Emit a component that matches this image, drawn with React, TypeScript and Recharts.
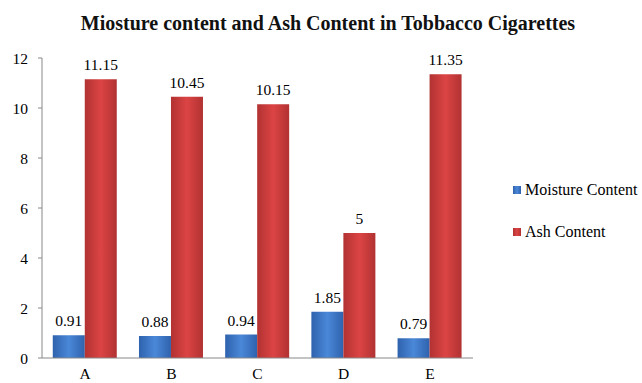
import React from 'react';
import { BarChart, Bar, XAxis, YAxis, LabelList } from 'recharts';

const categories = ['A', 'B', 'C', 'D', 'E'];
const moisture = [0.91, 0.88, 0.94, 1.85, 0.79];
const ash = [11.15, 10.45, 10.15, 5, 11.35];
const yTicks = [0, 2, 4, 6, 8, 10, 12];

const data = categories.map((c, i) => ({ name: c, moisture: moisture[i], ash: ash[i] }));

const FONT = '"Liberation Serif", "Times New Roman", serif';

const legendItems = [
  { label: 'Moisture Content', color: 'url(#blueGrad)' },
  { label: 'Ash Content', color: 'url(#redGrad)' },
];

function LegendBox() {
  return (
    <div style={{ fontFamily: FONT, fontSize: 16, color: '#000' }}>
      {legendItems.map((item) => (
        <div key={item.label} style={{ display: 'flex', alignItems: 'center', height: 42 }}>
          <svg width={8} height={8} style={{ marginRight: 4 }}>
            <rect width={8} height={8} fill={item.color} />
          </svg>
          <span>{item.label}</span>
        </div>
      ))}
    </div>
  );
}

export default function App() {
  return (
    <div style={{ position: 'fixed', left: 0, top: 0, width: 642, height: 383, background: '#fff', fontFamily: FONT }}>
      <div
        style={{
          position: 'absolute',
          top: 12,
          left: 7,
          width: 642,
          textAlign: 'center',
          fontWeight: 'bold',
          fontSize: 20,
          fontFamily: FONT,
          color: '#111',
        }}
      >
        Miosture content and Ash Content in Tobbacco Cigarettes
      </div>
      <BarChart
        width={642}
        height={383}
        data={data}
        margin={{ top: 58, right: 169, bottom: 0, left: 0 }}
        barCategoryGap="12.5%"
        barGap={0}
        style={{ fontFamily: FONT }}
      >
        <defs>
          <linearGradient id="blueGrad" x1="0" y1="0" x2="1" y2="0">
            <stop offset="0%" stopColor="#2f62ad" />
            <stop offset="50%" stopColor="#4a88d8" />
            <stop offset="100%" stopColor="#2f62ad" />
          </linearGradient>
          <linearGradient id="redGrad" x1="0" y1="0" x2="1" y2="0">
            <stop offset="0%" stopColor="#b23232" />
            <stop offset="50%" stopColor="#dc4444" />
            <stop offset="100%" stopColor="#b23232" />
          </linearGradient>
        </defs>
        <XAxis
          dataKey="name"
          height={25}
          tickLine={false}
          axisLine={{ stroke: '#888' }}
          tick={{ fontSize: 15.5, fill: '#000', fontFamily: FONT }}
          tickMargin={4}
        />
        <YAxis
          width={42}
          domain={[0, 12]}
          ticks={yTicks}
          axisLine={{ stroke: '#888' }}
          tickLine={{ stroke: '#888' }}
          tickSize={4}
          tick={{ fontSize: 15.5, fill: '#000', fontFamily: FONT }}
          tickMargin={10}
        />
        <Bar dataKey="moisture" name="Moisture Content" fill="url(#blueGrad)" isAnimationActive={false}>
          <LabelList dataKey="moisture" position="top" offset={9} style={{ fontSize: 15.5, fill: '#000', fontFamily: FONT }} />
        </Bar>
        <Bar dataKey="ash" name="Ash Content" fill="url(#redGrad)" isAnimationActive={false}>
          <LabelList dataKey="ash" position="top" offset={9} style={{ fontSize: 15.5, fill: '#000', fontFamily: FONT }} />
        </Bar>
      </BarChart>
      <div style={{ position: 'absolute', left: 513, top: 169, width: 129 }}>
        <LegendBox />
      </div>
    </div>
  );
}
